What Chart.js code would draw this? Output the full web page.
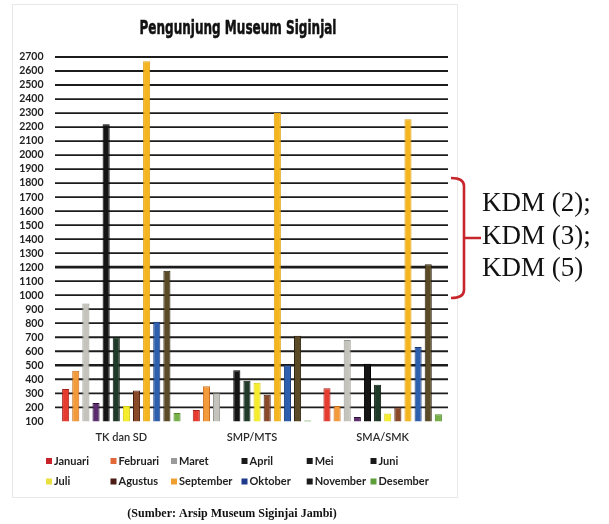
<!DOCTYPE html>
<html>
<head>
<meta charset="utf-8">
<script src="https://cdn.jsdelivr.net/npm/chart.js@4.4.1/dist/chart.umd.min.js"></script>
<style>
  html, body { margin: 0; padding: 0; background: #ffffff; }
  #wrap { position: relative; width: 609px; height: 524px; }
  canvas { display: block; }
</style>
</head>
<body>
<div id="wrap"><canvas id="chart" width="609" height="524"></canvas></div>
<script>
// School levels on the x axis
const categories = ['TK dan SD', 'SMP/MTS', 'SMA/SMK'];
// Months (one series each)
const months = ['Januari', 'Februari', 'Maret', 'April', 'Mei', 'Juni',
                'Juli', 'Agustus', 'September', 'Oktober', 'November', 'Desember'];

// Visitors per month, in the order of `categories`
const januari   = [330, 180, 335];
const februari  = [460, 350, 210];
const maret     = [940, 300, 680];
const april     = [230, null, 130];
const mei       = [2220, 465, 510];
const juni      = [700, 390, 360];
const juli      = [210, 375, 155];
const agustus   = [320, 290, 200];
const september = [2670, 2300, 2255];
const oktober   = [810, 500, 630];
const november  = [1175, 710, 1220];
const desember  = [160, 105, 150];

// Y axis range and step
const yMin = 100;
const yMax = 2700;
const yStep = 100;

// Bracketed note on the right
const noteLines = ['KDM (2);', 'KDM (3);', 'KDM (5)'];
const chartTitle = 'Pengunjung Museum Siginjal';
const sourceText = '(Sumber: Arsip Museum Siginjai Jambi)';

const seriesValues = [januari, februari, maret, april, mei, juni,
                      juli, agustus, september, oktober, november, desember];

// Bar fill / border colours and legend swatch colours
const fills = ['#e63b2e', '#f39a3a', '#c4c4bc', '#5b2d6e', '#151515', '#1f3a28',
               '#f5ec2c', '#8a4a2a', '#f4b51e', '#2e5fae', '#5a4a26', '#78b048'];
const borders = ['#a8201a', '#c86a1a', '#9a9a94', '#2e1238', '#000000', '#0c1a10',
                 '#d8cc10', '#4a2010', '#e0a010', '#1a3a78', '#2a200c', '#4e8a2a'];
const swatches = ['#c8232b', '#e2683a', '#9a9a9a', '#1a1a1a', '#1a1a1a', '#1a1a1a',
                  '#e8e040', '#4a1c14', '#f0a030', '#1f3a8a', '#1a1a1a', '#5e9e3a'];

const datasets = months.map((m, i) => ({
  label: m,
  data: seriesValues[i],
  backgroundColor: fills[i],
  borderColor: borders[i],
  borderWidth: 1,
  borderSkipped: 'bottom',
  barPercentage: 0.7,
  categoryPercentage: 0.93
}));

// Horizontal value lines, placed through the y scale
const valueLines = {
  id: 'valueLines',
  beforeDatasetsDraw(chart) {
    const { ctx, chartArea } = chart;
    const y = chart.scales.y;
    ctx.save();
    ctx.strokeStyle = '#1c1c1c';
    y.ticks.forEach(t => {
      if (t.value <= yMin) return;
      const py = y.getPixelForValue(t.value);
      ctx.lineWidth = t.value === 1200 ? 2.8 : (t.value === 500 ? 2.3 : 1.8);
      ctx.beginPath();
      ctx.moveTo(chartArea.left - 1, py);
      ctx.lineTo(chartArea.right, py);
      ctx.stroke();
    });
    ctx.restore();
  }
};

// Title, legend grid, source line, frame and bracket note
const decorations = {
  id: 'decorations',
  afterDraw(chart) {
    const ctx = chart.ctx;
    ctx.save();

    // light page frame
    ctx.strokeStyle = '#e8e8e8';
    ctx.lineWidth = 1;
    ctx.strokeRect(12.5, 4.5, 445, 493);

    // title (condensed heavy face)
    ctx.fillStyle = '#111111';
    ctx.textAlign = 'center';
    ctx.textBaseline = 'middle';
    ctx.font = 'bold 20px "DejaVu Sans", sans-serif';
    ctx.fillText(chartTitle, 238, 29, 197);
    ctx.strokeStyle = '#111111';
    ctx.lineWidth = 0.6;
    ctx.strokeText(chartTitle, 238, 29, 197);

    // legend: two rows of six
    const colX = [46, 110.5, 171, 241.5, 306.7, 370.5];
    const rowY = [461, 481.5];
    ctx.font = 'bold 11px Lato, "Open Sans", sans-serif';
    ctx.textAlign = 'left';
    ctx.textBaseline = 'middle';
    chart.data.datasets.forEach((ds, i) => {
      const x = colX[i % 6];
      const y = rowY[Math.floor(i / 6)];
      ctx.fillStyle = swatches[i];
      ctx.fillRect(x, y - 3, 6, 6);
      ctx.fillStyle = '#1e1e1e';
      ctx.fillText(ds.label, x + 8, y);
    });

    // source line
    ctx.font = 'bold 12px "Liberation Serif", "DejaVu Serif", serif';
    ctx.textAlign = 'center';
    ctx.fillStyle = '#111111';
    ctx.fillText(sourceText, 232, 514);

    // red bracket
    const bx = 464, top = 178, bot = 298, mid = 238;
    ctx.strokeStyle = '#c8262d';
    ctx.lineWidth = 2.6;
    ctx.lineJoin = 'round';
    ctx.beginPath();
    ctx.moveTo(451, top);
    ctx.quadraticCurveTo(bx, top, bx, top + 8);
    ctx.lineTo(bx, bot - 8);
    ctx.quadraticCurveTo(bx, bot, 451, bot);
    ctx.moveTo(bx, mid);
    ctx.lineTo(481, mid);
    ctx.stroke();

    // note text
    ctx.font = '27px "Liberation Serif", "DejaVu Serif", serif';
    ctx.textAlign = 'left';
    ctx.fillStyle = '#111111';
    const noteY = [204, 237, 269];
    noteLines.forEach((t, i) => ctx.fillText(t, 482, noteY[i]));

    ctx.restore();
  }
};

new Chart(document.getElementById('chart'), {
  type: 'bar',
  data: { labels: categories, datasets },
  options: {
    responsive: false,
    animation: false,
    devicePixelRatio: 1,
    layout: { padding: { left: 0, right: 161, top: 57, bottom: 72.7 } },
    plugins: {
      legend: { display: false },
      title: { display: false },
      tooltip: { enabled: false }
    },
    scales: {
      x: {
        grid: { display: false, drawTicks: false },
        border: { display: false },
        ticks: {
          color: '#2a2a2a',
          padding: 10,
          font: { family: 'Lato, "Open Sans", sans-serif', size: 11, weight: '600' }
        },
        afterFit(scale) { scale.height = 30; }
      },
      y: {
        min: yMin,
        max: yMax,
        grid: { display: false, drawTicks: false },
        border: { display: false },
        ticks: {
          stepSize: yStep,
          autoSkip: false,
          callback: v => String(v),
          color: '#222222',
          padding: 12.5,
          font: { family: 'Lato, "Open Sans", sans-serif', size: 10.5, weight: 'bold' }
        },
        afterFit(scale) { scale.width = 56; }
      }
    }
  },
  plugins: [valueLines, decorations]
});
</script>
</body>
</html>
